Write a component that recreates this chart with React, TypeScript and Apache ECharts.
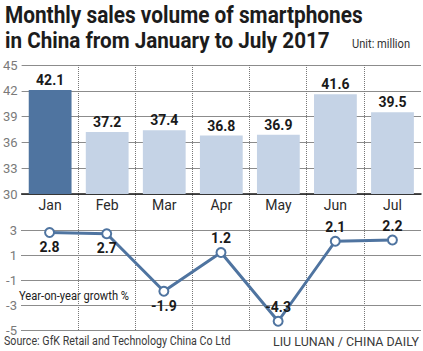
import React, { useEffect, useRef } from "react";
import * as echarts from "echarts";

const months = ["Jan", "Feb", "Mar", "Apr", "May", "Jun", "Jul"];
const salesVolume = [42.1, 37.2, 37.4, 36.8, 36.9, 41.6, 39.5];
const yoyGrowth = [2.8, 2.7, -1.9, 1.2, -4.3, 2.1, 2.2];
const growthTicks = [-5, -3, -1, 1, 3];

const FONT = 'Roboto, "Noto Sans", sans-serif';
const DARK_BLUE = "#4f74a0";
const LIGHT_BLUE = "#c5d3e6";
const GRID_GRAY = "#8c8c8c";
const LABEL_GRAY = "#7a7a7a";

function measure(text: string, font: string): number {
  const c = document.createElement("canvas");
  const ctx = c.getContext("2d");
  if (!ctx) return 1;
  ctx.font = font;
  return ctx.measureText(text).width || 1;
}

function fitText(text: string, x: number, y: number, width: number, font: string, fill: string) {
  const w = measure(text, font);
  return {
    type: "text",
    x,
    y,
    scaleX: width / w,
    style: { text, font, fill, verticalAlign: "top", align: "left" },
  };
}

export default function App() {
  const ref = useRef<HTMLDivElement>(null);
  useEffect(() => {
    const el = ref.current;
    if (!el) return;
    const chart = echarts.init(el, undefined, { renderer: "svg" });
    const titleFont = `bold 23px ${FONT}`;
    const smallFont = `13px ${FONT}`;
    const option: any = {
      animation: false,
      backgroundColor: "#ffffff",
      textStyle: { fontFamily: FONT },
      grid: [
        { left: 21, right: 2, top: 65, height: 129 },
        { left: 21, right: 2, top: 230, height: 100 },
        { left: 21, right: 2, top: 65, height: 265 },
      ],
      xAxis: [
        {
          gridIndex: 0,
          type: "category",
          data: months,
          axisLine: { show: true, lineStyle: { color: "#1a1a1a", width: 1.5 } },
          axisTick: { show: false },
          axisLabel: { color: "#2a2a2a", fontSize: 14, margin: 4, fontFamily: FONT },
          splitLine: { show: false },
        },
        {
          gridIndex: 1,
          type: "category",
          data: months,
          axisLine: { show: false },
          axisTick: { show: false },
          axisLabel: { show: false },
          splitLine: { show: false },
        },
        {
          gridIndex: 2,
          type: "category",
          data: months,
          axisLine: { show: false },
          axisTick: { show: false },
          axisLabel: { show: false },
          splitLine: {
            show: true,
            showMinLine: false,
            showMaxLine: false,
            lineStyle: { color: "#777", type: "dotted", width: 1 },
          },
          z: 0,
        },
      ],
      yAxis: [
        {
          gridIndex: 0,
          type: "value",
          min: 30,
          max: 45,
          interval: 3,
          axisLine: { show: false },
          axisTick: { show: false },
          axisLabel: { color: LABEL_GRAY, fontSize: 13, margin: 4, fontFamily: FONT },
          splitLine: { show: true, lineStyle: { color: GRID_GRAY, width: 1 } },
        },
        {
          gridIndex: 1,
          type: "value",
          min: -5,
          max: 3,
          axisLine: { show: false },
          axisTick: { show: false },
          axisLabel: { show: false },
          splitLine: { show: false },
        },
        {
          gridIndex: 2,
          type: "value",
          min: 0,
          max: 1,
          show: false,
          splitLine: { show: false },
        },
      ],
      series: [
        {
          type: "bar",
          xAxisIndex: 0,
          yAxisIndex: 0,
          data: salesVolume.map((v, i) => ({
            value: v,
            itemStyle: { color: i === 0 ? DARK_BLUE : LIGHT_BLUE },
          })),
          barWidth: "75%",
          label: {
            show: true,
            position: "top",
            distance: 3,
            color: "#1a1a1a",
            fontWeight: "bold",
            fontSize: 14,
            fontFamily: FONT,
          },
          z: 3,
        },
        {
          type: "line",
          xAxisIndex: 1,
          yAxisIndex: 1,
          data: yoyGrowth.map((v, i) => ({
            value: v,
            label: { position: i < 3 ? "bottom" : "top" },
          })),
          lineStyle: { color: DARK_BLUE, width: 3 },
          itemStyle: { color: "#ffffff", borderColor: DARK_BLUE, borderWidth: 2 },
          symbol: "circle",
          symbolSize: 9,
          label: {
            show: true,
            distance: 2,
            color: "#1a1a1a",
            fontWeight: "bold",
            fontSize: 14,
            fontFamily: FONT,
          },
          z: 4,
          markLine: {
            silent: true,
            symbol: "none",
            z: 1,
            lineStyle: { color: GRID_GRAY, type: "solid", width: 1 },
            label: {
              show: true,
              position: "start",
              distance: 4,
              color: LABEL_GRAY,
              fontSize: 13,
              fontFamily: FONT,
              formatter: (p: any) => String(p.value),
            },
            data: growthTicks.map((v) => ({ yAxis: v })),
          },
        },
      ],
      graphic: [
        fitText("Monthly sales volume of smartphones", 5, 4, 358, titleFont, "#1c1c1c"),
        fitText("in China from January to July 2017", 5, 29, 325, titleFont, "#1c1c1c"),
        fitText("Unit: million", 352, 37, 58, smallFont, "#333"),
        fitText("Year-on-year growth %", 19, 289, 110, smallFont, "#222"),
        fitText("Source: GfK Retail and Technology China Co Ltd", 4, 334, 227, smallFont, "#3a3a3a"),
        fitText("LIU LUNAN / CHINA DAILY", 273, 335, 146, smallFont, "#3a3a3a"),
      ],
    };
    chart.setOption(option);
    return () => chart.dispose();
  }, []);
  return <div ref={ref} style={{ width: 423, height: 351, position: "absolute", left: 0, top: 0 }} />;
}
